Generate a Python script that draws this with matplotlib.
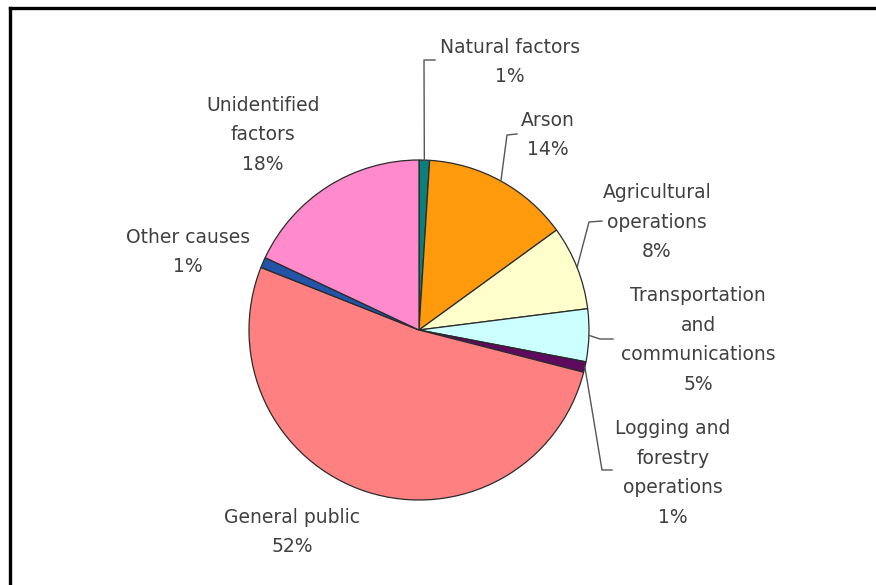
import numpy as np
import matplotlib.pyplot as plt
from matplotlib.lines import Line2D

# causes of fire, clockwise from 12 o'clock
causes = ['Natural factors', 'Arson', 'Agricultural\noperations',
          'Transportation\nand\ncommunications', 'Logging and\nforestry\noperations',
          'General public', 'Other causes', 'Unidentified\nfactors']
shares = [1, 14, 8, 5, 1, 52, 1, 18]
colors = ['#0b7f7b', '#ff9a0c', '#ffffcc', '#ccffff', '#5e0a5e',
          '#ff8080', '#2354a8', '#ff8acc']

W, H = 876, 585
cx, cy, R = 419, 330, 170          # pie centre / radius in pixels (y from top)

# label block centres (pixels, y from top) and leader elbows (None = no leader)
label_xy = [(510, 62), (548, 135), (657, 222), (698, 340), (673, 473),
            (292, 532), (188, 252), (263, 135)]
elbows = [[(424, 60), (435, 60)],
          [(507, 135), (517, 134)],
          [(589, 222), (602, 221)],
          [(600, 339), (613, 339)],
          [(602, 470), (612, 470)],
          None, None, None]

def py(y):
    return H - y

fig = plt.figure(figsize=(W / 100, H / 100), dpi=100)
ax = fig.add_axes([0, 0, 1, 1])

wedges, _ = ax.pie(shares, colors=colors, startangle=90, counterclock=False,
                   center=(cx, py(cy)), radius=R,
                   wedgeprops=dict(edgecolor='#2a2a2a', linewidth=0.9))
ax.set_xlim(0, W)
ax.set_ylim(0, H)
ax.set_aspect('equal')
ax.axis('off')

for w, name, pct, (lx, ly), elb in zip(wedges, causes, shares, label_xy, elbows):
    ax.text(lx, py(ly), f'{name}\n{pct}%', ha='center', va='center',
            multialignment='center', fontsize=13.5, color='#404040',
            family='DejaVu Sans', linespacing=1.72)
    if elb is not None:
        mid = np.deg2rad((w.theta1 + w.theta2) / 2)
        xs = [cx + R * np.cos(mid)] + [p[0] for p in elb]
        ys = [py(cy) + R * np.sin(mid)] + [py(p[1]) for p in elb]
        ax.plot(xs, ys, color='#555555', lw=1)

# chart frame (only top and left edges fall inside the image)
fig.add_artist(Line2D([10 / W, 1], [1 - 8 / H, 1 - 8 / H], color='black', lw=2.4))
fig.add_artist(Line2D([10 / W, 10 / W], [0, 1 - 8 / H], color='black', lw=2.4))

fig.savefig('out.png', dpi=100)
